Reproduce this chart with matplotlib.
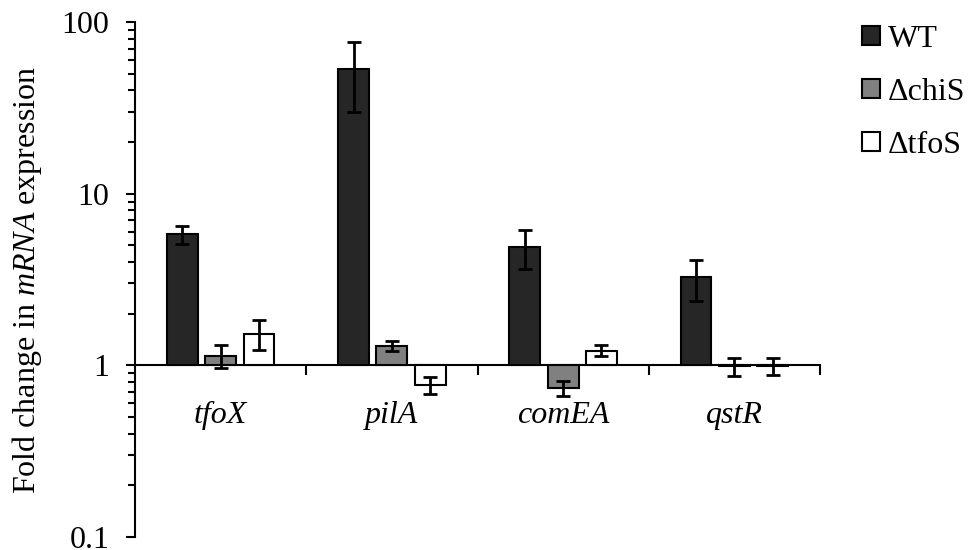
import numpy as np
import matplotlib
matplotlib.use("Agg")
import matplotlib.pyplot as plt
from matplotlib.patches import Patch

plt.rcParams['font.family'] = ['Liberation Serif', 'DejaVu Serif']
plt.rcParams['mathtext.fontset'] = 'custom'
plt.rcParams['mathtext.rm'] = 'Liberation Serif'
plt.rcParams['mathtext.it'] = 'Liberation Serif:italic'

genes = ['tfoX', 'pilA', 'comEA', 'qstR']
series = ['WT', 'ΔchiS', 'ΔtfoS']
wt = [5.8, 53.0, 4.9, 3.25]
wt_err = [0.7, 23.0, 1.28, 0.88]
chis = [1.14, 1.30, 0.74, 0.99]
chis_err = [0.17, 0.08, 0.075, 0.12]
tfos = [1.53, 0.77, 1.22, 0.99]
tfos_err = [0.30, 0.09, 0.09, 0.11]
colors = ['#262626', '#808080', '#ffffff']
yticks = [0.1, 1, 10, 100]
ytick_labels = ['0.1', '1', '10', '100']

L, R, T, B = 135, 820, 22, 537
fig = plt.figure(figsize=(9.68, 5.5), dpi=100)
ax = fig.add_axes([L/968, 1-B/550, (R-L)/968, (B-T)/550])

x = np.arange(len(genes))
width = 0.18
offset = 0.224
baseline = 1.0
for k, (vals, errs, col) in enumerate(zip([wt, chis, tfos], [wt_err, chis_err, tfos_err], colors)):
    xs = x + (k - 1) * offset
    heights = np.array(vals) - baseline
    ax.bar(xs, heights, width, bottom=baseline, color=col, edgecolor='black',
           linewidth=1.5, zorder=3, label=series[k])
    ax.errorbar(xs, vals, yerr=errs, fmt='none', ecolor='black', elinewidth=2,
                capsize=4.8, capthick=2, zorder=4)

ax.set_yscale('log')
ax.set_ylim(0.1, 100)
ax.set_xlim(-0.5, 3.5)
ax.set_yticks(yticks)
ax.set_yticklabels(ytick_labels)
ax.tick_params(axis='y', which='major', direction='out', length=6.5, width=1.5,
               labelsize=23, pad=12)
ax.tick_params(axis='y', which='minor', direction='out', length=5, width=1.5)

ax.spines['top'].set_visible(False)
ax.spines['right'].set_visible(False)
ax.spines['left'].set_linewidth(1.5)
ax.spines['bottom'].set_position(('data', 1.0))
ax.spines['bottom'].set_linewidth(1.5)

ax.set_xticks([0.5, 1.5, 2.5, 3.5])
ax.set_xticklabels([])
ax.set_xticks(x, minor=True)
ax.set_xticklabels(genes, minor=True, style='italic')
ax.tick_params(axis='x', which='major', direction='out', length=7, width=1.5)
ax.tick_params(axis='x', which='minor', length=0, labelsize=23, pad=25.5)

ax.set_ylabel('Fold change in $\\mathit{mRNA}$ expression', fontsize=23)
ax.yaxis.set_label_coords((44 - L)/(R - L), 0.5)

handles = [Patch(facecolor=c, edgecolor='black', linewidth=1.5) for c in colors]
fig.legend(handles, series, loc='upper left', bbox_to_anchor=(862/968, 1-25/550),
           frameon=False, fontsize=23, handlelength=0.56, handleheight=0.56,
           handletextpad=0.25, labelspacing=0.75, borderaxespad=0, borderpad=0)

fig.savefig('out.png', dpi=100)
